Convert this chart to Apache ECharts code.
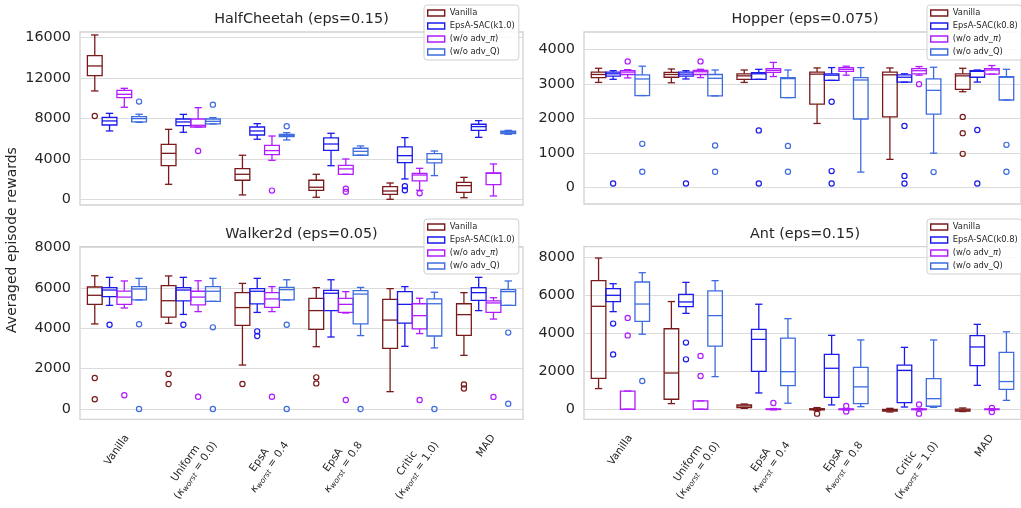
<!DOCTYPE html>
<html><head><meta charset="utf-8">
<script src="https://cdn.jsdelivr.net/npm/echarts@6/dist/echarts.min.js"></script>
<style>html,body{margin:0;padding:0;background:#fff}#c{width:1021px;height:508px}</style>
</head><body><div id="c"></div>
<script>
// ---------------- DATA ----------------
const categories = ['Vanilla', 'Uniform (k=0.0)', 'EpsA (k=0.4)', 'EpsA (k=0.8)', 'Critic (k=1.0)', 'MAD'];
const labelLine1 = ['Vanilla', 'Uniform', 'EpsA', 'EpsA', 'Critic', 'MAD'];
const labelKappa = ['', '0.0', '0.4', '0.8', '1.0', ''];
const labelParen = [false, true, false, false, true, false];
const titles = ['HalfCheetah (eps=0.15)', 'Hopper (eps=0.075)', 'Walker2d (eps=0.05)', 'Ant (eps=0.15)'];
const namesK10 = ['Vanilla', 'EpsA-SAC(k1.0)', '(w/o adv_π)', '(w/o adv_Q)'];
const namesK08 = ['Vanilla', 'EpsA-SAC(k0.8)', '(w/o adv_π)', '(w/o adv_Q)'];
const yMax = [16000, 4000, 8000, 8000];
const yStep = [4000, 1000, 2000, 2000];
const yName = 'Averaged episode rewards';

// box stats per category: [low whisker, Q1, median, Q3, high whisker]
const hcVanilla = [[10700,12210,13170,14190,16230],[1480,3320,4540,5430,6910],[430,1880,2470,3030,4350],[200,890,1190,1880,2470],[0,490,820,1250,1610],[160,690,1350,1680,2170]];
const hcEpsA = [[6750,7340,7740,8100,8490],[6620,7280,7640,7930,8390],[5930,6350,6750,7140,7470],[3320,4840,5460,6060,6520],[2010,3620,4310,5170,6090],[6120,6810,7180,7410,7770]];
const hcNoPi = [[9090,10040,10370,10760,10960],[7140,7140,7310,7930,9050],[3850,4410,4810,5330,6250],[2470,2470,3000,3360,3980],[890,1810,2400,2570,3060],[330,1450,2570,2600,3490]];
const hcNoQ = [[7600,7640,7970,8160,8400],[7440,7440,7700,7930,8070],[5860,6190,6320,6420,6580],[4350,4350,4740,5040,5270],[2340,3590,3950,4510,4770],[6420,6490,6620,6720,6810]];
const hcVanillaOut = [[8230],[],[],[],[],[]];
const hcEpsAOut = [[],[],[],[],[1300,900],[]];
const hcNoPiOut = [[],[4770],[860],[1050,750],[590],[]];
const hcNoQOut = [[9650],[9350],[7210],[],[],[]];

const hpVanilla = [[3040,3180,3270,3340,3450],[3030,3190,3270,3330,3430],[3040,3130,3230,3290,3400],[1850,2410,3280,3340,3460],[810,2040,3260,3340,3460],[2770,2840,3230,3290,3450]];
const hpEpsA = [[3130,3220,3290,3340,3380],[3140,3220,3280,3340,3380],[3130,3130,3290,3320,3420],[3100,3100,3250,3290,3470],[3050,3050,3190,3260,3290],[3050,3190,3360,3380,3400]];
const hpNoPi = [[3170,3270,3340,3380,3410],[3180,3270,3350,3390,3420],[3210,3330,3390,3440,3620],[3250,3360,3420,3470,3510],[3250,3290,3380,3440,3500],[3280,3280,3400,3440,3530]];
const hpNoQ = [[2660,2660,3140,3260,3510],[2650,2650,3160,3270,3400],[2600,2600,3150,3180,3400],[440,1980,3110,3180,3470],[990,2120,2810,3140,3480],[2530,2530,3190,3210,3420]];
const hpVanillaOut = [[],[],[],[],[],[2040,1570,970]];
const hpEpsAOut = [[110],[110],[1650,110],[2480,470,110],[1780,330,110],[1660,110]];
const hpNoPiOut = [[3650],[3650],[],[],[2990],[]];
const hpNoQOut = [[1260,450],[1210,450],[1200,450],[],[440],[1230,450]];

const wkVanilla = [[4220,5190,5640,6050,6610],[4250,4560,5370,6120,6600],[2180,4150,5030,5770,6230],[3090,3950,4880,5490,6020],[860,3010,4410,5440,5970],[2660,3650,4680,5220,5770]];
const wkEpsA = [[5140,5570,5900,6020,6530],[4690,5360,5900,6020,6530],[4790,5210,5840,5970,6480],[3570,4880,5740,5880,6410],[3110,4260,5190,5820,6070],[4880,5390,5770,6020,6530]];
const wkNoPi = [[5010,5190,5550,5850,6350],[4830,5160,5550,5840,6360],[4830,5040,5460,5770,6070],[4760,4790,5190,5490,5820],[3740,3970,4630,5220,5490],[4460,4790,5260,5360,5520]];
const wkNoQ = [[5410,5410,5950,6070,6480],[5340,5340,5840,6070,6480],[5410,5410,5920,6030,6410],[3640,4220,5700,5870,6030],[3030,3620,5220,5460,5790],[5140,5140,5820,5920,6350]];
const wkVanillaOut = [[1540,480],[1740,1240],[1240],[1570,1270],[],[1220,1020]];
const wkEpsAOut = [[4180],[4180],[3850,3620],[],[],[]];
const wkNoPiOut = [[680],[610],[610],[450],[450],[600]];
const wkNoQOut = [[4200,0],[4050,0],[4180,0],[0],[0],[3790,260]];

const antVanilla = [[1090,1630,5420,6770,7960],[300,530,1910,4240,5670],[50,90,175,230,280],[-70,-30,0,30,90],[-140,-100,-50,0,50],[-120,-90,-40,10,70]];
const antEpsA = [[5140,5670,6000,6350,6610],[5050,5400,5650,6050,6680],[860,2000,3680,4210,5530],[230,630,2160,2890,3890],[120,350,2050,2330,3260],[1260,2300,3280,3880,4470]];
const antNoPi = [[0,0,0,960,960],[0,0,0,440,440],[-30,-10,0,20,40],[-40,-20,0,20,40],[-40,-20,0,20,40],[-30,-15,0,15,30]];
const antNoQ = [[3950,4630,5540,6700,7190],[1720,3320,4930,6230,6770],[320,1250,1980,3750,4770],[140,300,1180,2210,3650],[100,160,560,1610,3650],[470,1050,1460,3000,4080]];
const antVanillaOut = [[],[],[],[-230],[],[]];
const antEpsAOut = [[4510,2890],[3510,2630],[],[],[],[]];
const antNoPiOut = [[4810,3890],[2810,1750],[330],[175,-120],[250,-230],[70,-140]];
const antNoQOut = [[1490],[],[],[],[],[]];

// ---------------- STYLE / LAYOUT ----------------
const COLORS = ['#7a1a1a', '#1a1aee', '#b01cff', '#3d6be0'];
const TXT = '#262626';
const FONT = 'DejaVu Sans';
const BOX_FRAC = 0.2;
const frames = [
  {left: 80, top: 32, width: 443, height: 173},
  {left: 584, top: 32, width: 442, height: 172},
  {left: 80, top: 246.7, width: 443, height: 172.6},
  {left: 584, top: 246.7, width: 442, height: 172.6}
];
const dataTop = [37.3, 49.3, 247.7, 257.3];
const dataBottom = [199.3, 187.3, 409, 409.3];
const legendPos = [{left: 424, top: 5}, {left: 927, top: 5}, {left: 424, top: 219}, {left: 927, top: 219}];

const boxes = [
  [hcVanilla, hcEpsA, hcNoPi, hcNoQ],
  [hpVanilla, hpEpsA, hpNoPi, hpNoQ],
  [wkVanilla, wkEpsA, wkNoPi, wkNoQ],
  [antVanilla, antEpsA, antNoPi, antNoQ]
];
const outs = [
  [hcVanillaOut, hcEpsAOut, hcNoPiOut, hcNoQOut],
  [hpVanillaOut, hpEpsAOut, hpNoPiOut, hpNoQOut],
  [wkVanillaOut, wkEpsAOut, wkNoPiOut, wkNoQOut],
  [antVanillaOut, antEpsAOut, antNoPiOut, antNoQOut]
];
const seriesNames = [namesK10, namesK08, namesK10, namesK08];

// ----- x tick labels (matplotlib-like: rotated bbox top-centred at the tick) -----
const XFS = 10.5, SFS = 7.5, XLH = 12.5, ROT = 55, XPAD = 13;
const th = ROT * Math.PI / 180;
const ctx = document.createElement('canvas').getContext('2d');
function tw(t, size, italic) { ctx.font = (italic ? 'italic ' : '') + size + 'px "' + FONT + '"'; return ctx.measureText(t).width; }
function xLabel(i) {
  const k = labelKappa[i];
  if (!k) return '{m|' + labelLine1[i] + '}';
  const o = labelParen[i] ? '(' : '', c = labelParen[i] ? ')' : '';
  return '{m|' + labelLine1[i] + '}\n' + (o ? '{m|' + o + '}' : '') + '{k|κ}{s|worst}{m| = ' + k + c + '}';
}
function labelHalfHeight(i) {
  const k = labelKappa[i];
  let L = tw(labelLine1[i], XFS, false), H = XLH;
  if (k) {
    const o = labelParen[i] ? '(' : '', c = labelParen[i] ? ')' : '';
    L = Math.max(L, tw(o, XFS) + tw('κ', XFS, true) + tw('worst', SFS, true) + tw(' = ' + k + c, XFS));
    H = 2 * XLH;
  }
  return (L * Math.sin(th) + H * Math.cos(th)) / 2;
}
const xRich = {
  m: {fontSize: XFS, lineHeight: XLH, fill: TXT, fontFamily: FONT},
  k: {fontSize: XFS, lineHeight: XLH, fontStyle: 'italic', fill: TXT, fontFamily: FONT},
  s: {fontSize: SFS, lineHeight: 4, fontStyle: 'italic', verticalAlign: 'bottom', fill: TXT, fontFamily: FONT}
};

const grid = [], xAxis = [], yAxis = [], series = [], legend = [], title = [];
for (let p = 0; p < 4; p++) {
  const f = frames[p];
  const bottomRow = p >= 2;
  // frame grid
  grid.push({left: f.left, top: f.top, width: f.width, height: f.height, show: true, borderColor: '#d2d2d2', borderWidth: 1.3, backgroundColor: 'transparent'});
  xAxis.push({type: 'category', gridIndex: 2 * p, boundaryGap: true, data: categories,
    axisLine: {show: false}, axisTick: {show: false}, splitLine: {show: false}, axisLabel: {show: false}});
  yAxis.push({type: 'value', gridIndex: 2 * p, min: 0, max: 1, show: false});
  // data grid
  grid.push({left: f.left, top: dataTop[p], width: f.width, height: dataBottom[p] - dataTop[p], show: false});
  xAxis.push({type: 'category', gridIndex: 2 * p + 1, boundaryGap: true, data: categories, show: false});
  yAxis.push({
    type: 'value', gridIndex: 2 * p + 1, min: 0, max: yMax[p], interval: yStep[p],
    axisLine: {show: false}, axisTick: {show: false},
    axisLabel: {margin: 9, color: TXT, fontSize: 14.4, fontFamily: FONT, formatter: v => String(v)},
    splitLine: {show: true, lineStyle: {color: '#dcdcdc', width: 1.1}}
  });
  title.push({
    text: titles[p], left: f.left + f.width / 2, top: (p < 2 ? 21 : 236) - 9, textAlign: 'center', padding: 0,
    textStyle: {fontSize: 14.4, fontWeight: 'normal', color: TXT, fontFamily: FONT}
  });
  if (bottomRow) {
    series.push({
      type: 'custom', xAxisIndex: 2 * p, yAxisIndex: 2 * p, silent: true, z: 5,
      data: categories.map((c, i) => [i, 0]), encode: {x: 0, y: 1},
      renderItem: function (params, api) {
        const ci = api.value(0);
        const pt = api.coord([ci, 0]);
        return {type: 'text', x: pt[0], y: pt[1] + XPAD + labelHalfHeight(ci), rotation: th,
          style: {text: xLabel(ci), rich: xRich, align: 'center', verticalAlign: 'middle', fill: TXT, fontFamily: FONT, fontSize: XFS}};
      }
    });
  }
  const names = seriesNames[p];
  for (let m = 0; m < 4; m++) {
    const arr = boxes[p][m];
    series.push({
      type: 'custom', name: names[m], xAxisIndex: 2 * p + 1, yAxisIndex: 2 * p + 1, z: 3,
      data: arr.map((d, i) => [i].concat(d)),
      encode: {x: 0, y: [1, 2, 3, 4, 5]},
      renderItem: function (params, api) {
        const ci = api.value(0);
        const w = api.size([1, 0])[0] * BOX_FRAC;
        const cx = api.coord([ci, 0])[0] + (m - 1.5) * w;
        const yv = [1, 2, 3, 4, 5].map(k => api.coord([ci, api.value(k)])[1]);
        const st = {stroke: COLORS[m], lineWidth: 1.3, fill: 'none'};
        const L = (x1, y1, x2, y2) => ({type: 'line', shape: {x1, y1, x2, y2}, style: st});
        return {type: 'group', children: [
          L(cx, yv[1], cx, yv[0]),
          L(cx, yv[3], cx, yv[4]),
          L(cx - w / 4, yv[0], cx + w / 4, yv[0]),
          L(cx - w / 4, yv[4], cx + w / 4, yv[4]),
          {type: 'rect', shape: {x: cx - w / 2, y: yv[3], width: w, height: yv[1] - yv[3]}, style: st},
          L(cx - w / 2, yv[2], cx + w / 2, yv[2])
        ]};
      }
    });
    const pts = [];
    outs[p][m].forEach((vals, i) => vals.forEach(v => pts.push([i, v])));
    series.push({
      type: 'custom', name: names[m], xAxisIndex: 2 * p + 1, yAxisIndex: 2 * p + 1, z: 3,
      data: pts, encode: {x: 0, y: 1},
      renderItem: function (params, api) {
        const ci = api.value(0);
        const w = api.size([1, 0])[0] * BOX_FRAC;
        const pt = api.coord([ci, api.value(1)]);
        return {type: 'circle', shape: {cx: pt[0] + (m - 1.5) * w, cy: pt[1], r: 2.6}, style: {stroke: COLORS[m], lineWidth: 1.2, fill: 'none'}};
      }
    });
  }
  legend.push({
    orient: 'vertical', left: legendPos[p].left, top: legendPos[p].top,
    padding: [3, 4, 3, 3], itemGap: 3, itemWidth: 17, itemHeight: 6,
    backgroundColor: 'rgba(255,255,255,0.85)', borderColor: '#d0d0d0', borderWidth: 1, borderRadius: 3,
    textStyle: {fontSize: 8.4, lineHeight: 10, color: TXT, fontFamily: FONT, rich: {i: {fontStyle: 'italic', fontSize: 8.4, fontFamily: FONT, color: TXT}}},
    formatter: n => n.replace('π', '{i|π}'),
    data: names.map((n, m) => ({name: n, icon: 'rect', itemStyle: {color: '#fff', borderColor: COLORS[m], borderWidth: 1.4}})),
    z: 10
  });
}
// shared y-axis title
grid.push({left: 80, top: 140, width: 10, height: 200, show: false});
xAxis.push({type: 'category', gridIndex: 8, data: ['a'], show: false});
yAxis.push({
  type: 'value', gridIndex: 8, min: 0, max: 1, name: yName, nameLocation: 'middle', nameGap: 61,
  nameTextStyle: {fontSize: 14, color: TXT, fontFamily: FONT},
  axisLine: {show: false}, axisTick: {show: false}, axisLabel: {show: false}, splitLine: {show: false}
});

const chart = echarts.init(document.getElementById('c'), null, {renderer: 'canvas'});
chart.setOption({
  animation: false, backgroundColor: '#fff',
  textStyle: {fontFamily: FONT},
  title, grid, xAxis, yAxis, series, legend
});
</script></body></html>
